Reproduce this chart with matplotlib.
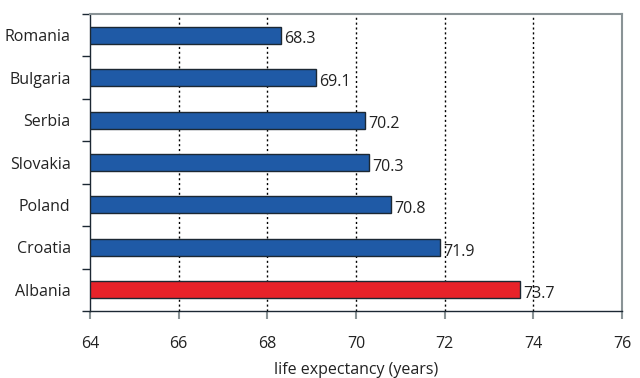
import matplotlib
matplotlib.use("Agg")
import matplotlib.pyplot as plt
import numpy as np

countries = ["Romania", "Bulgaria", "Serbia", "Slovakia", "Poland", "Croatia", "Albania"]
life_exp = [68.3, 69.1, 70.2, 70.3, 70.8, 71.9, 73.7]
highlight = "Albania"

BLUE = "#1f5aa6"
RED = "#e8222a"
EDGE = "#1c2833"
GRAY = "#8a9396"
TXT = "#222222"
FS = 11.5

plt.rcParams["font.family"] = ["Open Sans", "DejaVu Sans"]

fig = plt.figure(figsize=(6.4, 3.78), dpi=100)
ax = fig.add_axes([0.1406, 0.177, 0.8312, 0.786])

n = len(countries)
ypos = np.arange(n)[::-1]
base = 64
colors = [RED if c == highlight else BLUE for c in countries]
widths = [v - base for v in life_exp]
ax.barh(ypos, widths, left=base, height=0.4, color=colors, edgecolor=EDGE,
        linewidth=1.0, zorder=3)

for y, v in zip(ypos, life_exp):
    ax.text(v + 0.07, y - 0.1, f"{v:.1f}", va="center", ha="left",
            fontsize=FS, color=TXT, zorder=4)

ax.set_xlim(64, 76)
ax.set_ylim(-0.5, n - 0.5)
ax.set_xticks(np.arange(64, 77, 2))
ax.set_yticks(ypos)
ax.set_yticklabels(countries)
ax.set_yticks(np.arange(-0.5, n, 1.0), minor=True)

ax.tick_params(axis="y", which="major", length=0, pad=14, labelsize=FS,
               labelcolor=TXT)
ax.tick_params(axis="y", which="minor", length=6, width=1.0, color=EDGE)
ax.tick_params(axis="x", which="major", length=6, width=1.5, color=GRAY,
               pad=12, labelsize=FS, labelcolor=TXT)

for x in range(66, 76, 2):
    ax.axvline(x, color="black", linestyle=(0, (1.5, 2)), linewidth=1.0, zorder=1)

ax.spines["left"].set_color(EDGE)
ax.spines["bottom"].set_color(EDGE)
ax.spines["left"].set_linewidth(1.0)
ax.spines["bottom"].set_linewidth(1.0)
ax.spines["top"].set_color(GRAY)
ax.spines["right"].set_color(GRAY)
ax.spines["top"].set_linewidth(1.5)
ax.spines["right"].set_linewidth(1.5)

ax.set_xlabel("life expectancy (years)", fontsize=FS, color=TXT, labelpad=7)

fig.savefig("out.png", dpi=100)
